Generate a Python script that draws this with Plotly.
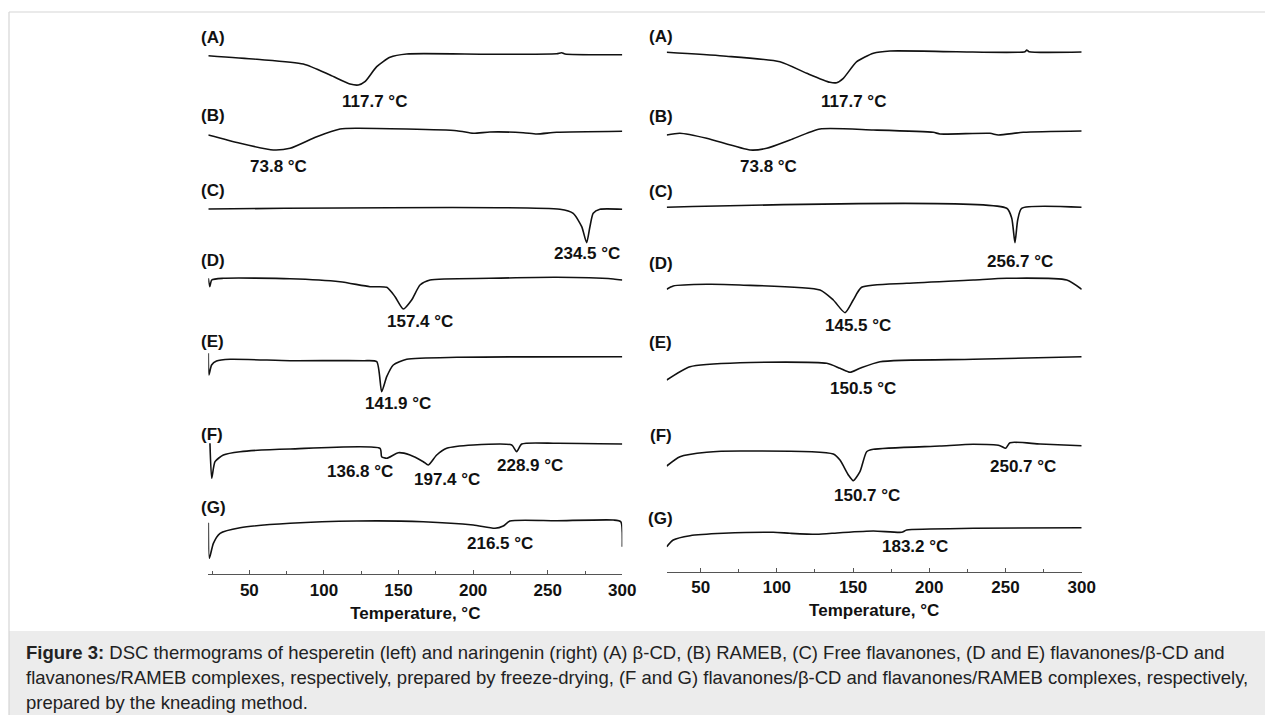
import plotly.graph_objects as go

# ---------------- data (temperature in °C, heat flow in arbitrary stacked units) -------------
# Left panel: hesperetin
L_A_T = [22.5, 55, 86.2, 104.1, 117.5, 123.1, 127.5, 135.4, 144.3, 155.5, 211.3, 256, 259.4, 261.6, 300]
L_A_H = [544.3, 540.7, 536, 525, 516, 515, 518.3, 533.3, 542.7, 546, 545.7, 546.3, 547.3, 546, 545.3]

L_B_T = [22.5, 43.8, 66.1, 77.3, 95.2, 110.8, 122, 189, 200.1, 211.3, 233.6, 242.6, 256, 300]
L_B_H = [465, 456.7, 450, 451.7, 463.3, 471, 471.7, 469.3, 466.7, 468, 467.3, 466, 467.7, 468.7]

L_C_T = [22.5, 258.2, 267.1, 272.8, 276.1, 278.3, 280.5, 285, 300]
L_C_H = [391, 390.7, 386.7, 373.3, 357.3, 373.3, 386.7, 390.7, 390.7]

L_D_T = [22.5, 23.5, 24.8, 32.6, 77.3, 110.8, 130.9, 142.1, 147.7, 153.2, 158.8, 164.4, 171.1, 211.3, 256, 294, 300]
L_D_H = [321.7, 313.3, 320, 321.7, 321.3, 318.3, 313.3, 312.7, 303.3, 291, 300, 315, 320, 321.7, 322.7, 321, 320]

L_E_T = [22.5, 22.9, 24.7, 28, 37.1, 77.3, 126.4, 135.4, 138.7, 142.1, 146.5, 155.5, 189, 300]
L_E_H = [246.7, 225, 235, 239, 240.7, 239.3, 239.3, 238.3, 208.3, 223.3, 235, 240.7, 242.7, 243.3]

L_F_T = [23.6, 24.8, 27, 32.6, 43.8, 77.3, 137.6, 138.7, 142.1, 149.9, 157.7, 166.6, 170, 175.6, 182.3,
         200.1, 225.9, 229.2, 232.6, 256, 300]
L_F_H = [156.7, 121.7, 138.3, 145, 148.3, 151, 151.7, 143.3, 141.7, 147.3, 145, 138.3, 135, 145, 151.7,
         155, 155, 148.3, 156, 156.7, 156]

L_G_T = [22.5, 23.2, 25.9, 30.4, 43.8, 77.3, 122, 166.6, 200.1, 214.7, 220.2, 224.7, 256, 294, 299, 300]
L_G_H = [77.3, 41.7, 56.7, 66.7, 72.3, 76.7, 79, 78.3, 75, 71.7, 74, 79, 79.3, 80, 78.3, 53.3]

# Right panel: naringenin
R_A_T = [27.7, 64.8, 102, 119.6, 134.8, 139.2, 143.6, 152.4, 163.3, 174.2, 218, 262.8, 263.9, 265.4, 300]
R_A_H = [547.7, 544, 538.3, 526.7, 517.7, 517.3, 521.7, 538.3, 546.7, 549, 548.3, 548.3, 550, 548.3, 548]

R_B_T = [27.7, 36.4, 53.9, 82.4, 93.3, 108.6, 128.3, 163.3, 202.6, 207, 239.8, 245.3, 261.7, 300]
R_B_H = [465, 466.7, 461.7, 450, 451.7, 460, 471, 470, 467.7, 466, 466.7, 465, 467.7, 469]

R_C_T = [27.7, 250.8, 254.1, 256.2, 258, 260.6, 300]
R_C_H = [392.7, 391.7, 381.7, 357.3, 380, 391.7, 392.7]

R_D_T = [27.7, 32, 53.9, 75.8, 128.3, 137, 144.7, 150.1, 155.6, 185.2, 228.9, 250.8, 290.2, 300]
R_D_H = [310.7, 314, 315.7, 315, 310, 300, 287.3, 300, 312.7, 316.7, 320, 321.7, 320, 310.7]

R_E_T = [27.7, 43, 75.8, 132.7, 141.4, 148, 154.5, 167.7, 228.9, 300]
R_E_H = [220, 233.3, 237.3, 236.7, 231.7, 227.7, 231.7, 238.3, 240.7, 243.3]

R_F_T = [27.7, 36.4, 53.9, 75.8, 137, 141.4, 146.9, 150.1, 154.5, 158.9, 163.3, 207, 228.9, 246.4, 250.1,
         253, 272.7, 300]
R_F_H = [134, 143.3, 147.7, 149, 146, 140, 125, 119.3, 128.3, 148.3, 150.7, 154, 155.7, 154.3, 151.7,
         157.3, 156, 154.3]

R_G_T = [27.7, 32, 43, 64.8, 97.6, 108.6, 126.1, 141.4, 163.3, 181.9, 185.2, 228.9, 300]
R_G_H = [53.3, 60, 64.3, 66.7, 67.7, 66.7, 65.7, 67.3, 69, 67.7, 70, 71.7, 72.3]

# curve letters and their label levels
LETTERS = ["(A)", "(B)", "(C)", "(D)", "(E)", "(F)", "(G)"]
L_LETTER_Y = [563, 485, 410, 340, 259, 166, 93]
R_LETTER_Y = [563.3, 483.3, 408.3, 337, 258, 165, 81.7]

# peak labels: (text, temperature position, level)
L_PEAKS = [("117.7 °C", 134, 498.3), ("73.8 °C", 69.4, 433.3), ("234.5 °C", 276.1, 346.7),
           ("157.4 °C", 164.4, 278.3), ("141.9 °C", 149.9, 196.7), ("136.8 °C", 124.2, 128.3),
           ("197.4 °C", 182.3, 120.7), ("228.9 °C", 238.1, 135), ("216.5 °C", 218, 56.7)]
R_PEAKS = [("117.7 °C", 150.1, 498.3), ("73.8 °C", 94.4, 433.3), ("256.7 °C", 259.5, 338.3),
           ("145.5 °C", 153.4, 275), ("150.5 °C", 156.7, 211.7), ("150.7 °C", 158.9, 105),
           ("250.7 °C", 261.7, 134), ("183.2 °C", 190.6, 54)]

X_TICKS = [50, 100, 150, 200, 250, 300]

CAPTION = [
    "<b>Figure 3:</b> DSC thermograms of hesperetin (left) and naringenin (right) (A) β-CD, (B) RAMEB, (C) Free flavanones, (D and E) flavanones/β-CD and",
    "flavanones/RAMEB complexes, respectively, prepared by freeze-drying, (F and G) flavanones/β-CD and flavanones/RAMEB complexes, respectively,",
    "prepared by the kneading method.",
]

# ---------------- figure ----------------
W, H = 1265, 715
FONT = "Liberation Sans, Arial, Helvetica, sans-serif"

fig = go.Figure()

left = [(L_A_T, L_A_H), (L_B_T, L_B_H), (L_C_T, L_C_H), (L_D_T, L_D_H), (L_E_T, L_E_H), (L_F_T, L_F_H), (L_G_T, L_G_H)]
right = [(R_A_T, R_A_H), (R_B_T, R_B_H), (R_C_T, R_C_H), (R_D_T, R_D_H), (R_E_T, R_E_H), (R_F_T, R_F_H), (R_G_T, R_G_H)]

for (t, h) in left:
    fig.add_trace(go.Scatter(x=t, y=h, mode="lines", line=dict(color="#111", width=1.6, shape="spline", smoothing=0.6),
                             xaxis="x", yaxis="y", showlegend=False, hoverinfo="skip"))
for (t, h) in right:
    fig.add_trace(go.Scatter(x=t, y=h, mode="lines", line=dict(color="#111", width=1.6, shape="spline", smoothing=0.6),
                             xaxis="x2", yaxis="y2", showlegend=False, hoverinfo="skip"))

def px_x(p):
    return p / W

def px_y(p):
    return 1 - p / H

axis_common = dict(
    showline=True, linecolor="#555", linewidth=1, ticks="inside", ticklen=4, tickcolor="#555",
    tickvals=X_TICKS, ticktext=[str(v) for v in X_TICKS],
    tickfont=dict(family=FONT, size=17, color="#111", weight="bold"),
    minor=dict(ticks="inside", ticklen=3, dtick=25, tick0=0, tickcolor="#555"),
    showgrid=False, zeroline=False, fixedrange=True, automargin=False,
    title=dict(text="Temperature, °C", font=dict(family=FONT, size=17, color="#111", weight="bold"), standoff=8),
)

fig.update_layout(
    width=W, height=H, autosize=False,
    margin=dict(l=0, r=0, t=0, b=0, pad=0, autoexpand=False),
    paper_bgcolor="white", plot_bgcolor="rgba(0,0,0,0)",
    xaxis=dict(domain=[px_x(208.3), px_x(622.3)], range=[22.5, 300], anchor="y", **axis_common),
    yaxis=dict(domain=[px_y(574.3), px_y(25)], range=[25.7, 575], visible=False, fixedrange=True),
    xaxis2=dict(domain=[px_x(666.7), px_x(1081.7)], range=[27.7, 300], anchor="y2", **axis_common),
    yaxis2=dict(domain=[px_y(571.7), px_y(25)], range=[28.3, 575], visible=False, fixedrange=True),
)

ann = []
for lab, y in zip(LETTERS, L_LETTER_Y):
    ann.append(dict(text=lab, x=px_x(198.5), y=y, xref="paper", yref="y", showarrow=False,
                    font=dict(family=FONT, size=17, color="#111", weight="bold")))
for lab, y in zip(LETTERS, R_LETTER_Y):
    ann.append(dict(text=lab, x=px_x(660.5), y=y, xref="paper", yref="y2", showarrow=False,
                    font=dict(family=FONT, size=17, color="#111", weight="bold")))
for txt, t, y in L_PEAKS:
    ann.append(dict(text=txt, x=t, y=y, xref="x", yref="y", showarrow=False,
                    font=dict(family=FONT, size=17, color="#111", weight="bold")))
for txt, t, y in R_PEAKS:
    ann.append(dict(text=txt, x=t, y=y, xref="x2", yref="y2", showarrow=False,
                    font=dict(family=FONT, size=17, color="#111", weight="bold")))

# caption
for i, line in enumerate(CAPTION):
    ann.append(dict(text=line, x=px_x(24), y=px_y(652 + 25 * i), xref="paper", yref="paper",
                    xanchor="left", yanchor="middle", align="left", showarrow=False,
                    font=dict(family=FONT, size=18.5, color="#222")))
fig.update_layout(annotations=ann)

# frame and caption box
fig.update_layout(shapes=[
    dict(type="rect", xref="paper", yref="paper", x0=px_x(9), x1=1.0, y0=0, y1=px_y(631),
         fillcolor="#ececec", line=dict(width=0), layer="below"),
    dict(type="line", xref="paper", yref="paper", x0=px_x(9), x1=1.0, y0=px_y(12), y1=px_y(12),
         line=dict(color="#d6d6d6", width=1.2)),
    dict(type="line", xref="paper", yref="paper", x0=px_x(9), x1=px_x(9), y0=0, y1=px_y(12),
         line=dict(color="#d6d6d6", width=1.2)),
])

fig.write_html(
    "out.html",
    config={"responsive": False, "displayModeBar": False, "staticPlot": True},
    default_width="1265px", default_height="715px",
    post_script="document.body.style.margin='0';document.body.style.overflow='hidden';",
)
